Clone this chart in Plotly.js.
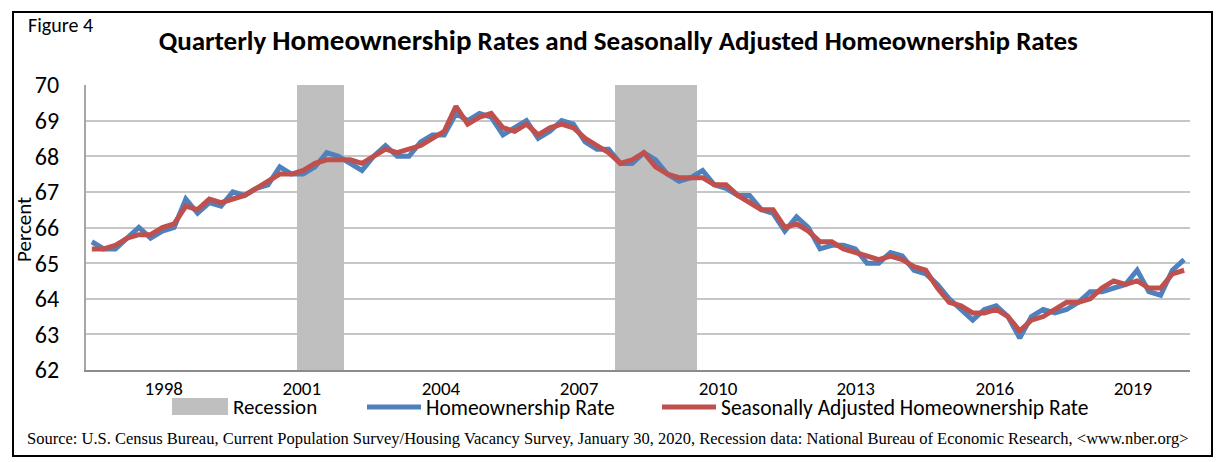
<!DOCTYPE html>
<html><head><meta charset="utf-8">
<script src="https://cdn.plot.ly/plotly-3.0.1.min.js"></script>
<style>
html,body{margin:0;padding:0;background:#fff}
#wrap{position:relative;width:1217px;height:462px}
#chart{width:1217px;height:462px}
#frame{position:absolute;left:12px;top:11px;width:1201px;height:446px;border:2px solid #000;box-sizing:border-box;pointer-events:none}
</style>
</head><body>
<div id="wrap"><div id="chart"></div><div id="frame"></div></div>
<script>
const quarters = [
"1996Q3","1996Q4",
"1997Q1","1997Q2","1997Q3","1997Q4",
"1998Q1","1998Q2","1998Q3","1998Q4",
"1999Q1","1999Q2","1999Q3","1999Q4",
"2000Q1","2000Q2","2000Q3","2000Q4",
"2001Q1","2001Q2","2001Q3","2001Q4",
"2002Q1","2002Q2","2002Q3","2002Q4",
"2003Q1","2003Q2","2003Q3","2003Q4",
"2004Q1","2004Q2","2004Q3","2004Q4",
"2005Q1","2005Q2","2005Q3","2005Q4",
"2006Q1","2006Q2","2006Q3","2006Q4",
"2007Q1","2007Q2","2007Q3","2007Q4",
"2008Q1","2008Q2","2008Q3","2008Q4",
"2009Q1","2009Q2","2009Q3","2009Q4",
"2010Q1","2010Q2","2010Q3","2010Q4",
"2011Q1","2011Q2","2011Q3","2011Q4",
"2012Q1","2012Q2","2012Q3","2012Q4",
"2013Q1","2013Q2","2013Q3","2013Q4",
"2014Q1","2014Q2","2014Q3","2014Q4",
"2015Q1","2015Q2","2015Q3","2015Q4",
"2016Q1","2016Q2","2016Q3","2016Q4",
"2017Q1","2017Q2","2017Q3","2017Q4",
"2018Q1","2018Q2","2018Q3","2018Q4",
"2019Q1","2019Q2","2019Q3","2019Q4"];

const homeownershipRate = [
65.6,65.4,
65.4,65.7,66.0,65.7,
65.9,66.0,66.8,66.4,
66.7,66.6,67.0,66.9,
67.1,67.2,67.7,67.5,
67.5,67.7,68.1,68.0,
67.8,67.6,68.0,68.3,
68.0,68.0,68.4,68.6,
68.6,69.2,69.0,69.2,
69.1,68.6,68.8,69.0,
68.5,68.7,69.0,68.9,
68.4,68.2,68.2,67.8,
67.8,68.1,67.9,67.5,
67.3,67.4,67.6,67.2,
67.1,66.9,66.9,66.5,
66.4,65.9,66.3,66.0,
65.4,65.5,65.5,65.4,
65.0,65.0,65.3,65.2,
64.8,64.7,64.4,64.0,
63.7,63.4,63.7,63.8,
63.5,62.9,63.5,63.7,
63.6,63.7,63.9,64.2,
64.2,64.3,64.4,64.8,
64.2,64.1,64.8,65.1];

const seasonallyAdjustedRate = [
65.4,65.4,
65.5,65.7,65.8,65.8,
66.0,66.1,66.6,66.5,
66.8,66.7,66.8,66.9,
67.1,67.3,67.5,67.5,
67.6,67.8,67.9,67.9,
67.9,67.8,68.0,68.2,
68.1,68.2,68.3,68.5,
68.7,69.4,68.9,69.1,
69.2,68.8,68.7,68.9,
68.6,68.8,68.9,68.8,
68.5,68.3,68.1,67.8,
67.9,68.1,67.7,67.5,
67.4,67.4,67.4,67.2,
67.2,66.9,66.7,66.5,
66.5,66.0,66.1,65.9,
65.6,65.6,65.4,65.3,
65.2,65.1,65.2,65.1,
64.9,64.8,64.3,63.9,
63.8,63.6,63.6,63.7,
63.5,63.1,63.4,63.5,
63.7,63.9,63.9,64.0,
64.3,64.5,64.4,64.5,
64.3,64.3,64.7,64.8];

const recessionQuarters = ["2001Q1","2001Q2","2001Q3","2001Q4",
"2007Q4","2008Q1","2008Q2","2008Q3","2008Q4","2009Q1","2009Q2"];
const recessionLevel = recessionQuarters.map(() => 70);

const tickLabels = ["1998","2001","2004","2007","2010","2013","2016","2019"];

function toYear(q){ return Number(q.slice(0,4)) + (Number(q.slice(5)) - 1) / 4; }

const FONT = 'Carlito, Calibri, Lato, sans-serif';
const RECESSION_GRAY = '#bfbfbf';

// pixel -> paper helpers for layout positioning (plot area 86..1190 x 85..370)
const px = v => (v - 86) / 1104;
const py = v => (370 - v) / 285;

const traces = [
  {type:'bar', name:'Recession', x:recessionQuarters.map(toYear), y:recessionLevel,
   width:0.25, marker:{color:RECESSION_GRAY, line:{width:0}}, hoverinfo:'skip', showlegend:false},
  {type:'scatter', mode:'lines', name:'Homeownership Rate', x:quarters.map(toYear), y:homeownershipRate,
   line:{color:'#4f81bd', width:5}, legend:'legend'},
  {type:'scatter', mode:'lines', name:'Seasonally Adjusted Homeownership Rate', x:quarters.map(toYear), y:seasonallyAdjustedRate,
   line:{color:'#c0504d', width:5}, legend:'legend2'}
];

const legendStyle = {orientation:'h', xanchor:'left', yanchor:'middle', y:py(407),
  font:{family:FONT, size:21.5, color:'#000'}, itemwidth:54, bgcolor:'rgba(0,0,0,0)'};

const layout = {
  width:1217, height:462,
  margin:{l:86, r:27, t:85, b:92},
  paper_bgcolor:'#fff', plot_bgcolor:'#fff',
  font:{family:FONT, color:'#000'},
  bargap:0,
  showlegend:true,
  title:{text:'Quarterly <span style="font-size:29px">Homeownership</span> Rates and Seasonally Adjusted Homeownership Rates',
    font:{family:FONT, size:27, color:'#000', weight:'bold'},
    xref:'container', yref:'container', x:0.508, y:1-41/462, xanchor:'center', yanchor:'middle'},
  xaxis:{type:'linear', range:[1996.375, 2019.875], showgrid:false, zeroline:false,
    showline:true, linecolor:'#8c8c8c', linewidth:2, ticks:'',
    tickmode:'array', tickvals:[1998.03, 2000.97, 2003.93, 2006.87, 2009.83, 2012.76, 2015.72, 2018.66],
    ticktext:tickLabels, tickfont:{family:FONT, size:19, color:'#000'}, ticklabelstandoff:0},
  yaxis:{range:[62,70], dtick:1, tick0:62, showgrid:true, gridcolor:'#c6c6c6', gridwidth:2,
    zeroline:false, showline:true, linecolor:'#a6a6a6', linewidth:2, ticks:'',
    tickfont:{family:FONT, size:24, color:'#000'}, ticklabelstandoff:20},
  legend:Object.assign({}, legendStyle, {x:px(362)}),
  legend2:Object.assign({}, legendStyle, {x:px(657)}),
  shapes:[
    {type:'rect', xref:'paper', yref:'paper', x0:px(172), x1:px(228), y0:py(415), y1:py(398),
     fillcolor:RECESSION_GRAY, line:{width:0}}
  ],
  annotations:[
    {text:'Recession', xref:'paper', yref:'paper', x:px(231), y:py(407), xanchor:'left', yanchor:'middle',
     showarrow:false, font:{family:FONT, size:21, color:'#000'}},
    {text:'Figure 4', xref:'paper', yref:'paper', x:px(26), y:py(25), xanchor:'left', yanchor:'middle',
     showarrow:false, font:{family:FONT, size:20, color:'#000'}},
    {text:'Percent', xref:'paper', yref:'paper', x:px(24), y:py(230), xanchor:'center', yanchor:'middle',
     textangle:-90, showarrow:false, font:{family:FONT, size:21, color:'#000'}},
    {text:'Source: U.S. Census Bureau, Current Population Survey/Housing Vacancy Survey, January 30, 2020, Recession data: National Bureau of Economic Research, &lt;www.nber.org&gt;',
     xref:'paper', yref:'paper', x:px(607), y:py(438), xanchor:'center', yanchor:'middle',
     showarrow:false, font:{family:'"Liberation Serif", "Times New Roman", serif', size:16.5, color:'#000'}}
  ]
};

Plotly.newPlot('chart', traces, layout, {displayModeBar:false, staticPlot:true});
</script>
</body></html>
